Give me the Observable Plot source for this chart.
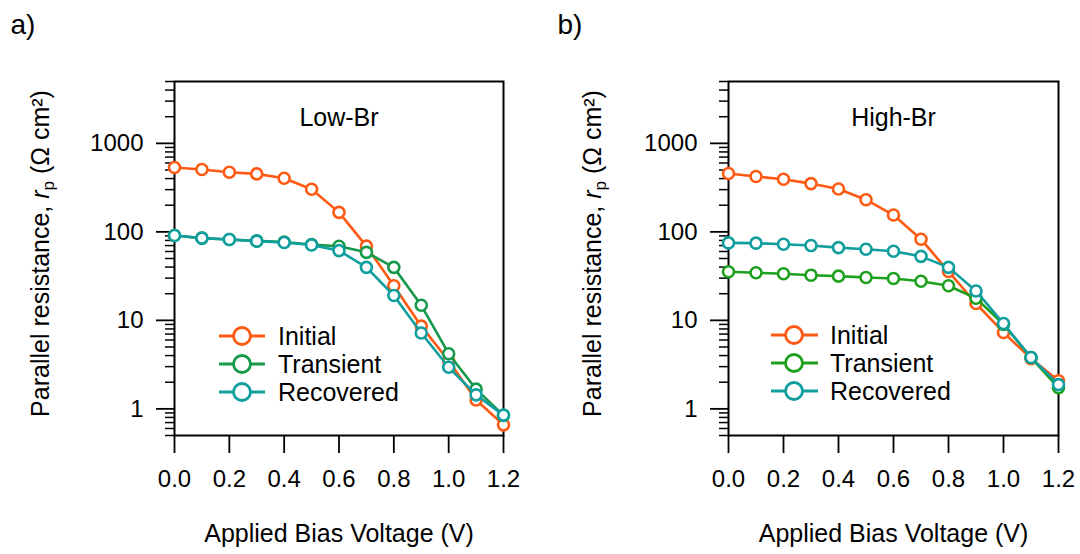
<!DOCTYPE html>
<html>
<head>
<meta charset="utf-8">
<script src="https://cdn.jsdelivr.net/npm/d3@7"></script>
<script src="https://cdn.jsdelivr.net/npm/@observablehq/plot@0.6"></script>
<style>
  html, body { margin: 0; padding: 0; background: #fff; }
  #wrap { position: relative; width: 1080px; height: 554px; overflow: hidden; background: #fff; }
  #wrap > svg { position: absolute; top: 0; }
</style>
</head>
<body>
<div id="wrap"></div>
<script>
// ---- data ----
const voltage = [0.0, 0.1, 0.2, 0.3, 0.4, 0.5, 0.6, 0.7, 0.8, 0.9, 1.0, 1.1, 1.2];
const seriesNames = ["Initial", "Transient", "Recovered"];

const lowInitial   = [533, 507, 472, 452, 403, 303, 166, 69, 24.6, 8.6, 3.5, 1.26, 0.66];
const lowTransient = [91, 85, 82, 79, 76.5, 72, 68.7, 58.7, 39.7, 14.8, 4.2, 1.67, 0.84];
const lowRecovered = [91, 85, 82, 78.5, 75.7, 71, 61.4, 39.7, 19.1, 7.2, 2.95, 1.44, 0.85];

const highInitial   = [456, 422, 393, 351, 305, 231, 155, 82.6, 35.7, 15.5, 7.3, 3.7, 2.08];
const highTransient = [35.4, 34.5, 33.6, 32.4, 31.6, 30.5, 29.7, 27.7, 24.6, 17.8, 9.0, 3.8, 1.73];
const highRecovered = [75, 74.5, 72.5, 70, 66.4, 63.6, 60.3, 52.9, 39.7, 21.5, 9.2, 3.8, 1.88];

const xTicks = [0.0, 0.2, 0.4, 0.6, 0.8, 1.0, 1.2];
const yMajorTicks = [1, 10, 100, 1000];
const yTickLabels = ["1", "10", "100", "1000"];
const panelTitles = ["Low-Br", "High-Br"];
const panelLetters = ["a)", "b)"];
const xLabel = "Applied Bias Voltage (V)";
const yLabel = "Parallel resistance, rp (Ω cm²)";

// ---- styles ----
const colorsLow  = ["#ff5a14", "#17994c", "#109e9e"];
const colorsHigh = ["#ff5a14", "#1ea01e", "#109e9e"];
const FONT = "'Liberation Sans', Arial, Helvetica, sans-serif";

// minor tick positions for the log axis (2..9 per decade)
const yMinorTicks = [];
for (const dec of [0.1, 1, 10, 100, 1000]) {
  for (let m = 2; m <= 9; m++) {
    const v = +(dec * m).toPrecision(3);
    if (v >= 0.5 && v <= 5000) yMinorTicks.push(v);
  }
}

function rowsOf(values) {
  return voltage.map((v, i) => ({v, r: values[i]}));
}

function makePanel(opts) {
  const {series, colors, title, letter, marginLeft, marginRight, yLabelDx, letterDx} = opts;
  const marks = [
    Plot.axisX(xTicks, {
      tickSize: 18, tickPadding: 16, strokeWidth: 1.8,
      tickFormat: d => d.toFixed(1), fontSize: 24, label: null
    }),
    Plot.axisY(yMinorTicks, {tickSize: 9, strokeWidth: 1.5, tickFormat: () => "", label: null}),
    Plot.axisY(yMajorTicks, {
      tickSize: 18, tickPadding: 13, strokeWidth: 1.8,
      tickFormat: d => yTickLabels[yMajorTicks.indexOf(d)], fontSize: 24, label: null
    }),
    Plot.frame({stroke: "black", strokeWidth: 2})
  ];
  series.forEach((vals, k) => {
    const rows = rowsOf(vals);
    marks.push(Plot.line(rows, {x: "v", y: "r", stroke: colors[k], strokeWidth: 2.6}));
    marks.push(Plot.dot(rows, {x: "v", y: "r", r: 5.5, stroke: colors[k], strokeWidth: 2.6, fill: "white"}));
  });
  marks.push(Plot.text([title], {frameAnchor: "top", dy: 44, lineAnchor: "bottom", fontSize: 25}));
  marks.push(Plot.text([xLabel], {frameAnchor: "bottom", dy: 106, lineAnchor: "bottom", fontSize: 25}));
  marks.push(Plot.text([yLabel], {
    frameAnchor: "left", dx: yLabelDx, dy: -5, rotate: -90, lineAnchor: "bottom",
    textAnchor: "middle", fontSize: 25
  }));
  marks.push(Plot.text([letter], {
    frameAnchor: "top-left", dx: letterDx, dy: -48, textAnchor: "start",
    lineAnchor: "bottom", fontSize: 28
  }));

  return Plot.plot({
    width: 540, height: 554,
    marginLeft, marginRight, marginTop: 81, marginBottom: 119,
    x: {domain: [0, 1.2]},
    y: {type: "log", domain: [0.5, 5000]},
    style: {fontFamily: FONT, fontSize: "24px", color: "black", background: "white", overflow: "visible"},
    marks
  });
}

// give the y-axis title its italic r and subscript p
function fixYLabel(svg) {
  const t = Array.from(svg.querySelectorAll("text")).find(e => e.textContent === yLabel);
  if (!t) return;
  const s = d3.select(t);
  s.text(null);
  s.append("tspan").text("Parallel resistance, ");
  s.append("tspan").attr("font-style", "italic").text("r");
  s.append("tspan").attr("font-size", 17).attr("dy", 5).text("p");
  s.append("tspan").attr("dy", -5).text(" (Ω cm²)");
}

function addLegend(svg, colors, lx1, lx2, cx, tx, ys) {
  const g = d3.select(svg).append("g").attr("class", "legend").attr("text-anchor", "start");
  seriesNames.forEach((name, k) => {
    const y = ys[k];
    g.append("line").attr("x1", lx1).attr("x2", lx2).attr("y1", y).attr("y2", y)
      .attr("stroke", colors[k]).attr("stroke-width", 2.8);
    g.append("circle").attr("cx", cx).attr("cy", y).attr("r", 8.5)
      .attr("fill", "white").attr("stroke", colors[k]).attr("stroke-width", 2.8);
    g.append("text").attr("x", tx).attr("y", y).attr("dy", "0.35em").attr("text-anchor", "start")
      .attr("font-family", FONT).attr("font-size", 25).attr("fill", "black").text(name);
  });
}

const wrap = document.getElementById("wrap");

const pa = makePanel({
  series: [lowInitial, lowTransient, lowRecovered], colors: colorsLow,
  title: panelTitles[0], letter: panelLetters[0],
  marginLeft: 174, marginRight: 37, yLabelDx: -126, letterDx: -164
});
pa.style.left = "0px";
fixYLabel(pa);
addLegend(pa, colorsLow, 219, 265, 242, 278, [336, 364, 392]);
wrap.appendChild(pa);

const pb = makePanel({
  series: [highInitial, highTransient, highRecovered], colors: colorsHigh,
  title: panelTitles[1], letter: panelLetters[1],
  marginLeft: 188, marginRight: 22, yLabelDx: -128, letterDx: -171
});
pb.style.left = "540px";
fixYLabel(pb);
addLegend(pb, colorsHigh, 231, 278, 254, 290, [335, 363, 391]);
wrap.appendChild(pb);
</script>
</body>
</html>
